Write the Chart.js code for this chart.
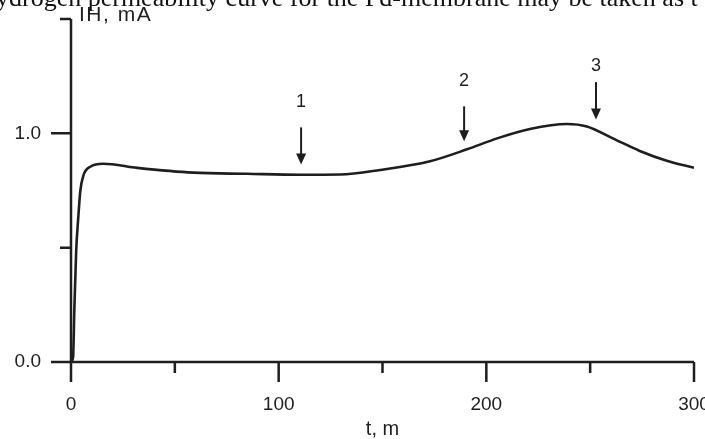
<!DOCTYPE html>
<html><head><meta charset="utf-8">
<script src="https://cdn.jsdelivr.net/npm/chart.js@4/dist/chart.umd.min.js"></script>
<style>html,body{margin:0;padding:0;background:#fff}#wrap{width:705px;height:439px;position:relative}</style>
</head><body><div id="wrap"><canvas id="c" width="705" height="439"></canvas></div>
<script>
// ---- data ----
const timeMinutes = [0, 1.0, 1.6, 2.5, 3.5, 4.5, 5.9, 9.3, 15.5, 31.9, 58.9, 84.9, 110.3, 129.6, 148.9, 172.9, 190.7, 205.2, 221, 238.8, 248.4, 260.9, 273.9, 286.9, 300];
const currentMA   = [0, 0.02, 0.225, 0.487, 0.631, 0.749, 0.814, 0.854, 0.867, 0.849, 0.828, 0.823, 0.819, 0.820, 0.840, 0.878, 0.930, 0.978, 1.019, 1.041, 1.030, 0.978, 0.923, 0.880, 0.849];
const xTickLabels = {0: '0', 100: '100', 200: '200', 300: '300'};
const yTickLabels = {0: '0.0', 1: '1.0'};
const arrowLabels = ['1', '2', '3'];
const arrowTimes  = [110.8, 189.3, 252.8];
const arrowTails  = [1.026, 1.118, 1.224];
const arrowTips   = [0.864, 0.965, 1.061];
const arrowLabelValues = [1.136, 1.228, 1.294];
const yAxisTitle = 'IH, mA';
const xAxisTitle = 't, m';
const headerText = 'ydrogen permeability curve for the Pd-membrane may be taken as t';

const INK = '#1e1e1e';
const SANS = '"Liberation Sans", Arial, Helvetica, sans-serif';

const points = timeMinutes.map((t, i) => ({x: t, y: currentMA[i]}));

const decorPlugin = {
  id: 'decor',
  afterDraw(chart) {
    const ctx = chart.ctx;
    const xs = chart.scales.x, ys = chart.scales.y;
    const x0 = xs.getPixelForValue(0), y0 = ys.getPixelForValue(0);
    ctx.save();
    ctx.strokeStyle = INK; ctx.fillStyle = INK;
    ctx.lineWidth = 2.5; ctx.lineCap = 'butt';
    // axes
    ctx.beginPath();
    ctx.moveTo(x0, ys.getPixelForValue(ys.max)); ctx.lineTo(x0, y0);
    ctx.moveTo(x0, y0); ctx.lineTo(xs.getPixelForValue(xs.max), y0);
    ctx.stroke();
    // x ticks
    ctx.beginPath();
    xs.ticks.forEach(tk => {
      const px = xs.getPixelForValue(tk.value);
      const len = (tk.value % 100 === 0) ? 20 : 11;
      ctx.moveTo(px, y0); ctx.lineTo(px, y0 + len);
    });
    // y ticks
    ys.ticks.forEach(tk => {
      const py = ys.getPixelForValue(tk.value);
      const len = (Math.abs(tk.value % 1) < 1e-9) ? 20 : 11;
      ctx.moveTo(x0 - len, py); ctx.lineTo(x0, py);
    });
    ctx.stroke();
    // arrows
    ctx.lineWidth = 2;
    arrowTimes.forEach((t, i) => {
      const px = xs.getPixelForValue(t);
      const pt = ys.getPixelForValue(arrowTails[i]);
      const ph = ys.getPixelForValue(arrowTips[i]);
      ctx.beginPath(); ctx.moveTo(px, pt); ctx.lineTo(px, ph - 8); ctx.stroke();
      ctx.beginPath(); ctx.moveTo(px - 5, ph - 11); ctx.lineTo(px + 5, ph - 11); ctx.lineTo(px, ph); ctx.closePath(); ctx.fill();
      ctx.font = '18px ' + SANS; ctx.textAlign = 'center'; ctx.textBaseline = 'middle';
      ctx.fillText(arrowLabels[i], px, ys.getPixelForValue(arrowLabelValues[i]));
    });
    // y axis title
    ctx.font = '21px ' + SANS; ctx.textAlign = 'left'; ctx.textBaseline = 'middle';
    if ('letterSpacing' in ctx) ctx.letterSpacing = '1.5px';
    ctx.fillText(yAxisTitle, x0 + 8, 15);
    if ('letterSpacing' in ctx) ctx.letterSpacing = '0px';
    // cut-off header line from the source page
    ctx.font = '26px "Liberation Serif", "Times New Roman", serif';
    ctx.textBaseline = 'alphabetic';
    ctx.fillStyle = '#111';
    ctx.fillText(headerText, -4, 6);
    ctx.restore();
  }
};

new Chart(document.getElementById('c'), {
  type: 'line',
  data: { datasets: [{
    data: points,
    borderColor: INK, borderWidth: 2.6,
    pointRadius: 0, fill: false,
    cubicInterpolationMode: 'monotone'
  }]},
  options: {
    responsive: false, animation: false, devicePixelRatio: 1,
    layout: { padding: { top: 19, right: 11, left: 0, bottom: 0 } },
    plugins: { legend: { display: false }, tooltip: { enabled: false } },
    scales: {
      x: {
        type: 'linear', min: 0, max: 300,
        border: { display: false },
        grid: { display: true, drawOnChartArea: false, drawTicks: true, tickLength: 20, color: 'rgba(0,0,0,0)' },
        ticks: { stepSize: 50, autoSkip: false, maxRotation: 0, padding: 11, color: INK,
                 font: { size: 19, family: SANS },
                 callback: v => xTickLabels[v] !== undefined ? xTickLabels[v] : '' },
        title: { display: true, text: xAxisTitle, color: INK, font: { size: 20, family: SANS, lineHeight: 1.0 }, padding: 0 },
        afterFit: s => { s.height = 77; s.paddingLeft = 0; s.paddingRight = 0; }
      },
      y: {
        min: 0, max: 1.5,
        border: { display: false },
        grid: { display: true, drawOnChartArea: false, drawTicks: true, tickLength: 20, color: 'rgba(0,0,0,0)' },
        ticks: { stepSize: 0.5, autoSkip: false, padding: 10, color: INK,
                 font: { size: 19, family: SANS },
                 callback: v => yTickLabels[v] !== undefined ? yTickLabels[v] : '' },
        afterFit: s => { s.width = 71; s.paddingTop = 0; s.paddingBottom = 0; }
      }
    }
  },
  plugins: [decorPlugin]
});
</script>
</body></html>
